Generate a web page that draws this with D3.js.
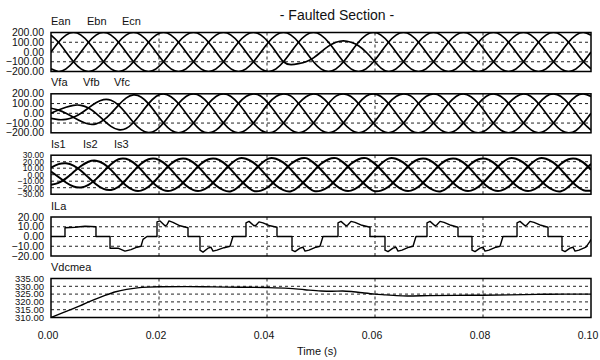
<!DOCTYPE html>
<html><head><meta charset="utf-8">
<script src="https://cdn.jsdelivr.net/npm/d3@7"></script>
<style>
body{margin:0;background:#fff}
svg{display:block}
text{font-family:"Liberation Sans",Arial,sans-serif;fill:#111}
</style></head><body>
<svg id="c" width="600" height="360"></svg>
<script>
// ---- data (waveform samples every 30 electrical degrees at 60 Hz) ----
const sampleStepMs = 1000 / 720;
const ean = [0,100,173,200,173,100,0,-100,-173,-200,-173,-100,
  0,100,173,200,173,100,0,-100,-173,-200,-173,-100,
  0,100,173,200,173,100,0,-100,-130,-120,-100,-60,
  0,60,100,115,100,65,0,-85,-165,-200,-173,-100,
  0,100,173,200,173,100,0,-100,-173,-200,-173,-100,
  0,100,173,200,173,100,0,-100,-173,-200,-173,-100,0];
const ebn = [-173,-200,-173,-100,0,100,173,200,173,100,0,-100,
  -173,-200,-173,-100,0,100,173,200,173,100,0,-100,
  -173,-200,-173,-100,0,100,173,200,173,100,0,-100,
  -173,-200,-173,-100,0,100,173,200,173,100,0,-100,
  -173,-200,-173,-100,0,100,173,200,173,100,0,-100,
  -173,-200,-173,-100,0,100,173,200,173,100,0,-100,-173];
const ecn = [173,100,0,-100,-173,-200,-173,-100,0,100,173,200,
  173,100,0,-100,-173,-200,-173,-100,0,100,173,200,
  173,100,0,-100,-173,-200,-173,-100,0,100,173,200,
  173,100,0,-100,-173,-200,-173,-100,0,100,173,200,
  173,100,0,-100,-173,-200,-173,-100,0,100,173,200,
  173,100,0,-100,-173,-200,-173,-100,0,100,173,200,173];
const vfa = [0,33,62,82,82,55,0,-70,-134,-168,-156,-94,
  0,99,173,200,170,100,0,-100,-176,-200,-173,-98,
  0,102,173,200,175,100,0,-100,-170,-200,-173,-100,
  0,100,176,200,173,100,0,-102,-173,-200,-170,-100,
  0,100,173,200,173,98,0,-100,-175,-200,-173,-100,
  0,100,170,200,173,100,0,-100,-173,-200,-176,-100,0];
const vfb = [-52,-65,-62,-41,0,55,108,140,134,84,0,-94,
  -168,-198,-173,-100,0,100,173,200,173,100,0,-100,
  -173,-200,-170,-100,0,102,173,200,176,100,0,-100,
  -173,-200,-173,-98,0,100,175,200,173,100,0,-100,
  -176,-200,-173,-100,0,100,173,200,170,100,0,-102,
  -173,-200,-173,-100,0,98,173,200,173,100,0,-100,-173];
const vfc = [52,33,0,-41,-82,-110,-108,-70,0,84,156,188,
  168,99,0,-100,-173,-200,-173,-100,0,100,173,200,
  173,100,0,-102,-173,-200,-175,-100,0,100,170,200,
  173,100,0,-100,-170,-200,-173,-100,0,102,173,200,
  176,100,0,-100,-173,-200,-173,-98,0,100,173,200,
  173,102,0,-100,-170,-200,-173,-100,0,100,175,200,173];
const is1 = [10.7,16.2,17.6,14.1,6.2,-4.4,-14.7,-21.9,-23.5,-18.6,-7.7,5.2,
  16.7,23.8,24.5,18.6,7.7,-5.2,-16.7,-23.8,-24.5,-18.6,-7.7,5.2,
  16.7,24.8,24.5,18.6,7.7,-5.2,-16.7,-23.8,-25.5,-18.6,-7.7,5.2,
  16.7,23.8,25.5,18.6,7.7,-5.2,-16.7,-24.8,-24.5,-18.6,-7.7,5.2,
  16.7,23.8,24.5,18.6,7.7,-5.2,-16.7,-23.8,-24.5,-18.6,-7.7,5.2,
  16.7,24.8,24.5,18.6,7.7,-5.2,-16.7,-23.8,-25.5,-18.6,-7.7,5.2,16.7];
const is2 = [-15.6,-12.6,-5.6,4.0,13.4,20.0,21.5,17.1,7.4,-5.2,-16.7,-23.8,
  -24.5,-18.6,-7.7,5.2,16.7,23.8,24.5,18.6,7.7,-5.2,-16.7,-23.8,
  -25.5,-18.6,-7.7,5.2,16.7,24.8,24.5,18.6,7.7,-5.2,-16.7,-24.8,
  -24.5,-18.6,-7.7,5.2,16.7,23.8,25.5,18.6,7.7,-5.2,-16.7,-23.8,
  -24.5,-18.6,-7.7,5.2,16.7,23.8,24.5,18.6,7.7,-5.2,-16.7,-23.8,
  -24.5,-18.6,-7.7,5.2,16.7,24.8,24.5,18.6,7.7,-5.2,-16.7,-23.8,-24.5];
const is3 = [4.9,-3.5,-12.0,-18.1,-19.6,-15.6,-6.8,4.8,16.1,23.8,24.5,18.6,
  7.7,-5.2,-16.7,-23.8,-24.5,-18.6,-7.7,5.2,16.7,23.8,24.5,18.6,
  7.7,-5.2,-16.7,-24.8,-24.5,-18.6,-7.7,5.2,16.7,23.8,25.5,18.6,
  7.7,-5.2,-16.7,-23.8,-24.5,-18.6,-7.7,5.2,16.7,24.8,24.5,18.6,
  7.7,-5.2,-16.7,-23.8,-25.5,-18.6,-7.7,5.2,16.7,23.8,24.5,18.6,
  7.7,-5.2,-16.7,-23.8,-24.5,-18.6,-7.7,5.2,16.7,23.8,24.5,18.6,7.7];
// load current: [time ms, A]
const ilaTime = [0,2.59,2.59,4.44,6.30,8.33,8.33,10.93,10.93,12.41,13.70,14.81,15.93,16.67,17.04,17.78,19.63,
  19.63,20.19,21.11,21.48,21.85,22.59,23.89,25.37,25.37,27.59,27.59,28.15,29.07,29.63,30.00,30.74,32.04,33.15,33.70,36.11,
  36.11,36.67,37.59,37.96,38.52,39.26,40.56,41.85,41.85,44.63,44.63,45.19,46.11,46.67,47.04,47.78,49.07,49.81,50.37,53.15,
  53.15,53.70,54.63,55.00,55.56,56.30,57.59,59.07,59.07,61.85,61.85,62.41,63.33,63.89,64.26,65.00,66.30,67.04,67.59,69.63,
  69.63,70.19,71.11,71.48,72.04,72.78,74.07,75.37,75.37,77.96,77.96,78.52,79.44,80.00,80.37,81.11,82.41,83.15,83.70,86.30,
  86.30,86.85,87.78,88.15,88.70,89.44,90.74,92.04,92.04,94.63,94.63,95.19,96.11,96.67,97.04,97.78,99.07,99.81,100];
const ilaValue = [0,0,9,9.5,10.5,10,0,0,-12,-12,-15,-13.5,-11,-10,-3,0,0,
  15,16,11,12,16,14.5,11,9,0,0,-14,-16,-12,-11,-15,-14,-11.5,-10,0,0,
  14,15.5,11,11.5,15,14,11,9.5,0,0,-14,-15.5,-12,-11,-15,-14,-11,-10,0,0,
  14,15.5,11,12,15.5,14.5,11.5,9.5,0,0,-14,-15.5,-12,-11,-15,-14,-11,-10,0,0,
  14,15.5,11,12,15.5,14.5,11.5,9.5,0,0,-14,-15.5,-12,-11,-15,-14,-11,-10,0,0,
  14,15.5,11,12,15.5,14.5,11.5,9.5,0,0,-14,-15.5,-12,-11,-15,-14,-11,-5,-3];
// measured dc voltage: [time ms, V]
const vdcTime = [0,2,4,6,8,10,12,14,16,18,20,25,30,35,40,44,47,50,52,54,56,58,60,62,64,66,70,75,80,85,90,95,100];
const vdcValue = [310,312.8,315.5,318.5,321.5,324.2,326.5,328,329,329.5,329.7,329.8,329.6,329.4,329.2,328.7,327.8,327,326.8,327,326.5,325.7,325,324.5,324,323.8,324,324.2,324.3,324.5,324.8,325,325];

const eTicks = [200,100,0,-100,-200];
const isTicks = [30,20,10,0,-10,-20,-30];
const ilaTicks = [20,10,0,-10,-20];
const vdcTicks = [335,330,325,320,315,310];
const timeTicks = [0,0.02,0.04,0.06,0.08,0.10];
const titleText = "- Faulted Section -";
const xAxisTitle = "Time (s)";

// ---- layout ----
const svg = d3.select("#c");
const X0 = 51, X1 = 591, PH = 39;
const panelTops = [32.5, 93.8, 155.2, 217, 278.5];
const x = d3.scaleLinear().domain([0, 0.1]).range([X0, X1]);
const sampleT = ean.map((_, k) => k * sampleStepMs / 1000);

const panels = [
  {labels:["Ean","Ebn","Ecn"], lx:[51,87,122], ticks:eTicks, series:[ean,ebn,ecn], curve:d3.curveNatural, sw:1.7},
  {labels:["Vfa","Vfb","Vfc"], lx:[51,83,114], ticks:eTicks, series:[vfa,vfb,vfc], curve:d3.curveNatural, sw:1.7},
  {labels:["Is1","Is2","Is3"], lx:[51,83,114], ticks:isTicks, series:[is1,is2,is3], curve:d3.curveNatural, sw:2},
  {labels:["ILa"], lx:[51], ticks:ilaTicks, pts:[ilaTime.map((t,i)=>[t/1000, ilaValue[i]])], curve:d3.curveLinear, sw:1.4},
  {labels:["Vdcmea"], lx:[51], ticks:vdcTicks, pts:[vdcTime.map((t,i)=>[t/1000, vdcValue[i]])], curve:d3.curveMonotoneX, sw:1.4}
];

panels.forEach((p, i) => {
  const top = panelTops[i];
  const y = d3.scaleLinear().domain([d3.min(p.ticks), d3.max(p.ticks)]).range([top + PH, top]);
  const g = svg.append("g");
  const cid = "clip" + i;
  svg.append("clipPath").attr("id", cid).append("rect")
    .attr("x", X0).attr("y", top).attr("width", X1 - X0).attr("height", PH);
  // grid
  const inner = p.ticks.filter(v => v !== d3.min(p.ticks) && v !== d3.max(p.ticks));
  g.selectAll(".hg").data(inner).join("line")
    .attr("x1", X0).attr("x2", X1).attr("y1", d => y(d)).attr("y2", d => y(d))
    .attr("stroke", "#222").attr("stroke-width", 1).attr("stroke-dasharray", "3,3");
  g.selectAll(".vg").data(timeTicks.slice(1, -1)).join("line")
    .attr("x1", d => x(d)).attr("x2", d => x(d)).attr("y1", top).attr("y2", top + PH)
    .attr("stroke", "#222").attr("stroke-width", 1).attr("stroke-dasharray", "3,3");
  // y labels (densely packed, as in the reference)
  const fs = p.ticks.length > 6 ? 8.5 : (p.ticks.length > 5 ? 9.5 : 10.5);
  g.selectAll(".yl").data(p.ticks).join("text")
    .attr("x", 44).attr("y", d => y(d)).attr("dy", "0.35em")
    .attr("text-anchor", "end").attr("font-size", fs)
    .text(d => d3.format(".2f")(d));
  // series labels
  p.labels.forEach((s, j) => {
    g.append("text").attr("x", p.lx[j]).attr("y", top - 7.5).attr("font-size", 11).text(s);
  });
  // data lines
  const line = d3.line().x(d => x(d[0])).y(d => y(d[1])).curve(p.curve);
  const data = p.series ? p.series.map(arr => arr.map((v, k) => [sampleT[k], v])) : p.pts;
  g.append("g").attr("clip-path", `url(#${cid})`).selectAll("path").data(data).join("path")
    .attr("d", line).attr("fill", "none").attr("stroke", "#000")
    .attr("stroke-width", p.sw).attr("stroke-linejoin", "round");
  // frame
  g.append("rect").attr("x", X0).attr("y", top).attr("width", X1 - X0).attr("height", PH)
    .attr("fill", "none").attr("stroke", "#000").attr("stroke-width", 1.5);
});

// x axis labels
svg.selectAll(".xl").data(timeTicks).join("text")
  .attr("x", d => x(d) - 3).attr("y", 339).attr("text-anchor", "middle").attr("font-size", 10.5)
  .text(d => d3.format(".2f")(d));
svg.append("text").attr("x", 317).attr("y", 355).attr("text-anchor", "middle").attr("font-size", 11).text(xAxisTitle);
svg.append("text").attr("x", 337).attr("y", 20).attr("text-anchor", "middle").attr("font-size", 14).text(titleText);
</script></body></html>
